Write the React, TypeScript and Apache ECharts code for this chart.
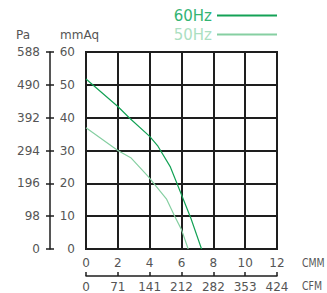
import React, { useEffect, useRef } from "react";
import * as echarts from "echarts";

const cmmTicks = ["0", "2", "4", "6", "8", "10", "12"];
const cfmTicks = ["0", "71", "141", "212", "282", "353", "424"];
const paTicks = [0, 98, 196, 294, 392, 490, 588];

const hz60: [number, number][] = [
  [0, 51.8], [2, 43.4], [2.73, 39.9], [4, 34.3], [4.52, 31.3],
  [5.3, 25], [6, 16.5], [6.6, 9.2], [7.26, 0],
];
const hz50: [number, number][] = [
  [0, 36.9], [2, 30], [2.84, 27.7], [3.9, 22.1], [5.05, 15.3],
  [5.58, 9.9], [6, 5.9], [6.42, 0],
];

const FONT = "DejaVu Sans";
const GRAY = "#555";
const DARK = "#1e1e1e";
const C60 = "#14a256";
const C60T = "#33b473";
const C50 = "#86cfa2";
const C50T = "#acdfc2";

export default function App() {
  const ref = useRef<HTMLDivElement>(null);
  useEffect(() => {
    if (!ref.current) return;
    const chart = echarts.init(ref.current, undefined, { renderer: "svg" });
    const label = { color: GRAY, fontSize: 12, fontFamily: FONT };
    chart.setOption({
      animation: false,
      textStyle: { fontFamily: FONT },
      grid: {
        left: 86, right: 50, top: 52, bottom: 44,
        show: true, borderColor: DARK, borderWidth: 2,
      },
      legend: {
        orient: "vertical",
        right: 50,
        top: 8,
        padding: 0,
        align: "right",
        itemWidth: 60,
        itemHeight: 2,
        itemGap: 4,
        icon: "rect",
        textStyle: { fontSize: 15, fontFamily: FONT, padding: [0, 0, 0, 0] },
        data: [
          { name: "60Hz", textStyle: { color: C60T } },
          { name: "50Hz", textStyle: { color: C50T } },
        ],
      },
      xAxis: [
        {
          type: "value", min: 0, max: 12, interval: 2, position: "bottom",
          axisLine: { show: false, onZero: false }, axisTick: { show: false },
          splitLine: { show: true, lineStyle: { color: DARK, width: 2 } },
          axisLabel: { ...label, margin: 8, formatter: (v: number) => cmmTicks[v / 2] ?? "" },
        },
        {
          type: "value", min: 0, max: 12, interval: 2, position: "bottom", offset: 27,
          axisLine: { show: true, onZero: false, lineStyle: { color: DARK, width: 1.5 } },
          axisTick: { show: true, inside: true, length: 4, lineStyle: { color: DARK, width: 1.5 } },
          splitLine: { show: false },
          axisLabel: { ...label, margin: 5, formatter: (v: number) => cfmTicks[v / 2] ?? "" },
        },
      ],
      yAxis: [
        {
          type: "value", min: 0, max: 60, interval: 10, position: "left",
          axisLine: { show: false, onZero: false }, axisTick: { show: false },
          splitLine: { show: true, lineStyle: { color: DARK, width: 2 } },
          axisLabel: { ...label, margin: 11 },
        },
        {
          type: "value", min: 0, max: 588, interval: 98, position: "left", offset: 36,
          axisLine: { show: true, onZero: false, lineStyle: { color: DARK, width: 1.5 } },
          axisTick: { show: true, length: 4, lineStyle: { color: DARK, width: 1.5 } },
          splitLine: { show: false },
          axisLabel: { ...label, margin: 10, formatter: (v: number) => (paTicks.includes(v) ? String(v) : "") },
        },
        {
          type: "value", min: 0, max: 588, interval: 98, position: "left", offset: 36,
          axisLine: { show: false, onZero: false },
          axisTick: { show: true, inside: true, length: 4, lineStyle: { color: DARK, width: 1.5 } },
          splitLine: { show: false },
          axisLabel: { show: false },
        },
      ],
      graphic: [
        { type: "text", left: 16, top: 29, style: { text: "Pa", fill: GRAY, font: `12px "${FONT}"` } },
        { type: "text", left: 60, top: 29, style: { text: "mmAq", fill: GRAY, font: `12px "${FONT}"` } },
        { type: "text", x: 302, y: 257, scaleX: 0.78, style: { text: "CMM", fill: GRAY, font: `12px "${FONT}"` } },
        { type: "text", x: 302, y: 280, scaleX: 0.78, style: { text: "CFM", fill: GRAY, font: `12px "${FONT}"` } },
      ],
      series: [
        {
          name: "60Hz", type: "line", data: hz60, xAxisIndex: 0, yAxisIndex: 0,
          showSymbol: false, symbol: "none", color: C60,
          lineStyle: { color: C60, width: 1.2 },
        },
        {
          name: "50Hz", type: "line", data: hz50, xAxisIndex: 0, yAxisIndex: 0,
          showSymbol: false, symbol: "none", color: C50,
          lineStyle: { color: C50, width: 1.2 },
        },
      ],
    });
    return () => chart.dispose();
  }, []);
  return (
    <div
      ref={ref}
      style={{ position: "absolute", left: 0, top: 0, width: 327, height: 293, background: "#fff" }}
    />
  );
}
